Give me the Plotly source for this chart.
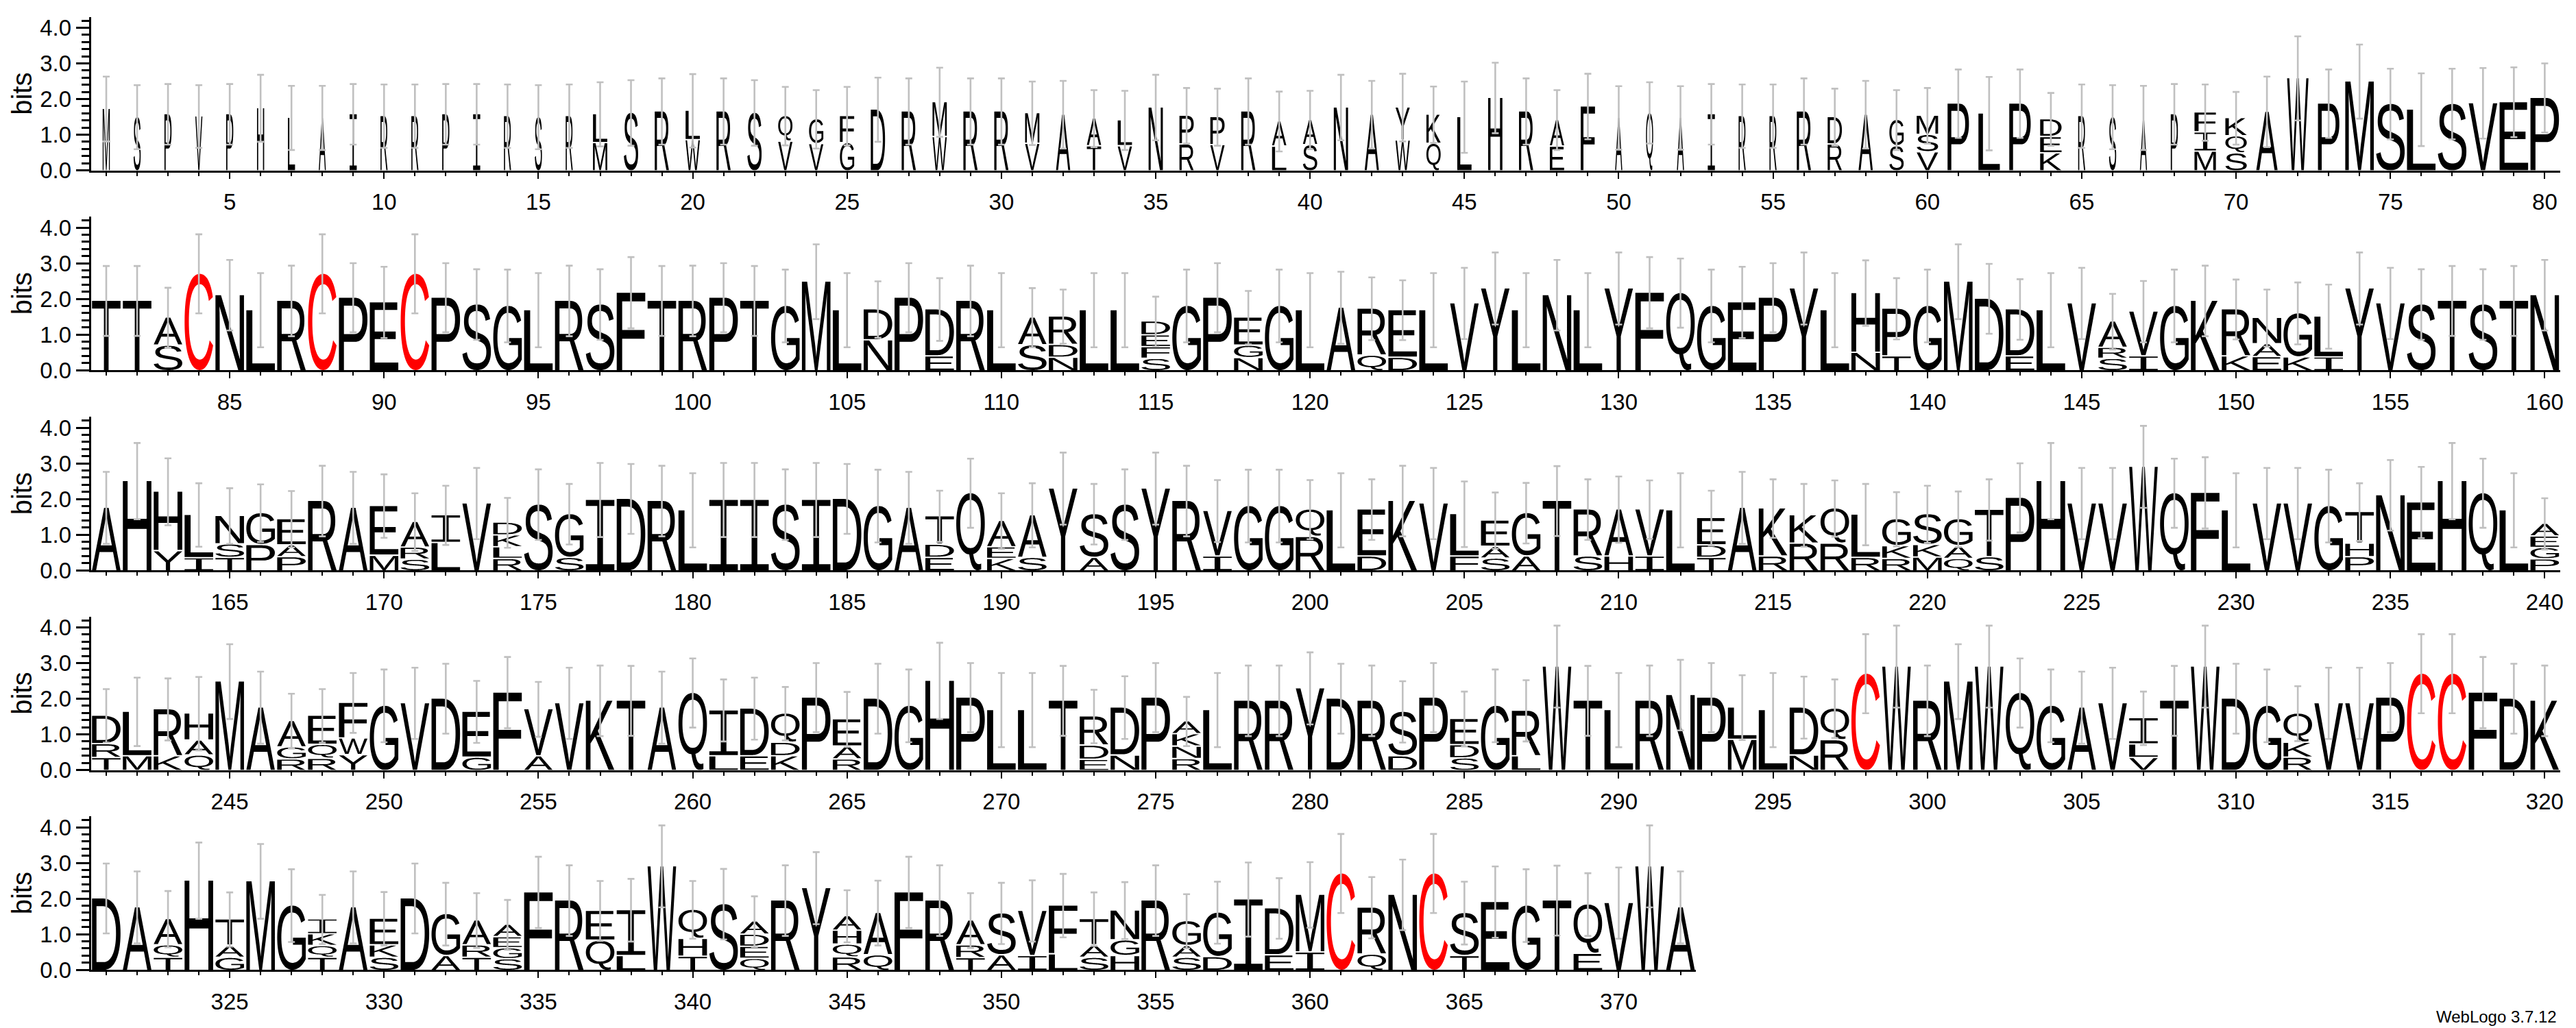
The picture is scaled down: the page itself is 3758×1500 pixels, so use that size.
import glob
import struct
import plotly.graph_objects as go

# ---------------------------------------------------------------- data
# Token: letter+bits segments from bottom to top, then ":" upper error-bar cap (bits).
# A bare letter is a fully conserved column, read from pure_bits / pure_cap.
pure_bits = dict(A=1.75, C=2.70, D=2.00, E=1.90, F=2.17, G=1.80, H=2.50, I=1.97, K=1.94, L=1.68,
                 M=2.48, N=2.10, P=2.03, Q=2.16, R=1.94, S=1.84, T=1.94, V=1.87, W=2.90, Y=2.29)
pure_cap = dict(A=2.76, C=3.81, D=2.98, E=2.90, F=3.17, G=2.82, H=3.57, I=3.01, K=2.93, L=2.72,
                M=3.53, N=3.09, P=3.00, Q=3.13, R=2.93, S=2.83, T=2.92, V=2.87, W=4.05, Y=3.30)

row1_stacks = """
M1.72:2.63 S1.49:2.39 P1.57:2.42 V1.51:2.39 P1.57:2.42 H1.74:2.68 L1.47:2.37 A1.47:2.37 I1.57:2.42 R1.52:2.41
R1.52:2.41 P1.57:2.42 I1.57:2.42 R1.52:2.41 S1.49:2.39 R1.52:2.41 M.78,L.79:2.47 S1.61:2.53 R1.65:2.58 W.86,L.81:2.70
R1.65:2.58 S1.61:2.53 V.82,Q.70:2.34 V.75,G.68:2.25 G.78,F.74:2.34 D1.70:2.60 R1.65:2.58 W.95,M.96:2.88 R1.65:2.58 R1.65:2.58
V.76,M.84:2.49 A1.56:2.51 T.69,A.76:2.25 V.69,L.71:2.23 N1.76:2.68 R.74,P.79:2.31 V.72,P.77:2.29 R1.65:2.58 L.68,A.69:2.21 S.72,A.69:2.23
N1.76:2.68 A1.56:2.51 W.85,Y.91:2.71 Q.76,K.80:2.35 L1.49:2.49 H2.03:3.02 R1.65:2.58 E.68,A.73:2.25 F1.79:2.71 A1.47:2.36
Q1.61:2.47 A1.47:2.36 I1.57:2.42 R1.52:2.41 R1.52:2.41 R1.65:2.58 R.74,D.75:2.29 A1.56:2.51 S.69,G.72:2.25 V.52,S.49,M.52:2.31
P1.87:2.83 L1.59:2.62 P1.87:2.83 K.49,E.46,D.48:2.17 R1.52:2.41 S1.49:2.39 A1.47:2.37 P1.57:2.42 M.54,I.54,F.54:2.41 S.49,Q.48,K.49:2.20
A1.64:2.63 W2.58:3.76 P1.87:2.83 M2.49:3.53 S1.86:2.85 L1.70:2.72 S1.86:2.85 V1.88:2.87 E1.91:2.89 P2.03:3.00
"""
row2_stacks = """
T T S.70,A.77:2.31 C N L R C P E
C P S G L R S F T R
P T G M L N.85,D.85:2.49 P E.40,D1.30:2.58 R L
S.71,A.76:2.30 N.36,D.36,R.78:2.26 L L S.33,F.33,E.33,D.37:2.06 G P N.35,G.35,E.77:2.22 G L
A Q.42,R1.30:2.60 D.36,E1.32:2.52 L V Y L N L Y
F Q G E P Y L N.50,H1.66:3.08 T.40,P1.32:2.58 G
M D E.40,D1.30:2.55 L V S.33,R.31,A.72:2.14 I.40,V1.24:2.50 G K K.40,R1.30:2.54
E.38,A.36,N.72:2.26 K.37,G1.22:2.46 I.37,L1.13:2.40 Y V S T S T N
"""
row3_stacks = """
A H Y.55,H1.65:3.14 I.35,L1.20:2.44 T.36,S.38,N.78:2.30 P.72,G.88:2.41 P.38,A.33,E.72:2.22 R A M.42,E1.38:2.69
S.31,R.34,A.70:2.16 L.78,I.76:2.37 V R.33,L.33,K.33,D.34:2.03 S S.36,G1.21:2.42 I D R L
I I S I D G A E.36,D.37,T.78:2.23 Q K.33,E.33,A.72:2.16
S.36,A1.18:2.44 Y A.36,S1.21:2.42 S Y R I.40,V1.26:2.53 G G R.95,Q.75:2.53
L D.40,E1.30:2.55 K V F.40,L1.17:2.49 S.34,A.33,E.72:2.18 A.40,G1.20:2.45 T S.40,R1.30:2.55 H.40,A1.30:2.63
I.40,V1.30:2.52 L T.36,D.35,E.75:2.23 A R.40,K1.33:2.55 R.76,K.78:2.42 R.76,Q.97:2.52 R.36,L1.20:2.42 R.33,K.36,G.74:2.19 M.37,K.35,S.85:2.37
Q.33,A.36,G.74:2.21 S.38,T1.31:2.55 P H V V W Q F L
V V G P.38,H.38,T.87:2.44 N E H Q L P.32,G.32,E.32,A.34:2.02
"""
row4_stacks = """
T.35,R.39,D.78:2.27 M.40,L1.23:2.59 K.40,R1.30:2.57 Q.42,A.42,H.74:2.61 M A R.31,G.34,A.72:2.14 R.33,Q.39,E.80:2.27 Y.43,W.47,F.98:2.72 G
V D G.36,E1.27:2.50 F A.40,V1.30:2.47 V K T A Q
L.40,I1.27:2.54 E.40,D1.32:2.59 K.40,D.38,Q.80:2.33 P R.31,A.36,E.75:2.19 D G H P L
L T E.30,D.40,R.80:2.25 N.42,D1.33:2.63 P R.32,N.35,K.35,A.34:2.05 L R R Y
D R D.40,S1.23:2.49 P S.34,D.37,E.72:2.20 G L.40,R1.26:2.52 W T L
R N P M.86,L.89:2.66 L N.42,D1.33:2.62 R.85,Q.87:2.54 C W R
M W Q G A V V.35,L.38,I.72:2.20 T W D
G R.36,K.42,Q.80:2.35 V V P C C F D K
"""
row5_stacks = """
D A T.35,Q.35,A.72:2.21 H G.35,A.34,T.72:2.17 M G T.35,Q.33,K.33,I.40:2.10 A S.35,K.35,E.73:2.18
D A.40,G1.16:2.44 T.35,R.35,A.68:2.15 S.31,G.31,E.31,A.33:1.96 F R Q.83,E.82:2.49 L.40,I1.27:2.55 W T.38,H.50,Q.80:2.49
S Q.32,E.34,D.34,A.35:2.06 R Y R.36,Q.36,H.39,A.39:2.23 Q.42,A1.17:2.50 F R T.34,R.36,A.68:2.15 A.42,S1.16:2.44
I.40,V1.25:2.51 L.45,F1.35:2.69 S.35,A.35,T.72:2.17 H.40,G.44,N.82:2.46 R S.35,A.33,G.68:2.12 D.37,G1.23:2.47 I E.42,D1.30:2.57 I.50,M1.60:3.02
C Q.44,R1.30:2.60 N C T.40,S1.19:2.47 E G T E.46,Q1.37:2.71 V
W A
"""
# Number of sequences (out of 4) present in each of the first 80 columns; every later column has 4.
row1_occupancy = "1111111111111111" + "222222222222222222222222222222222" + "111111" + "2222" + "33333" + "1111" + "33333" + "4" * 7
row_starts = [1, 81, 161, 241, 321]
row_stacks = [row1_stacks, row2_stacks, row3_stacks, row4_stacks, row5_stacks]
row_baselines_px = [248.5, 540, 832, 1123.5, 1415]
y_tick_values = [0, 1, 2, 3, 4]

# ---------------------------------------------------------------- glyph outlines
font_path = (glob.glob("/usr/share/fonts/**/LiberationSans-Regular.ttf", recursive=True)
             + glob.glob("/usr/**/LiberationSans-Regular.ttf", recursive=True))[0]
ttf = open(font_path, "rb").read()
tables = {}
for i in range(struct.unpack(">H", ttf[4:6])[0]):
    tag, _, off, ln = struct.unpack(">4sIII", ttf[12 + 16 * i:28 + 16 * i])
    tables[tag.decode()] = off
long_loca = struct.unpack(">h", ttf[tables["head"] + 50:tables["head"] + 52])[0] == 1


def glyph_index(ch):
    cm = tables["cmap"]
    for i in range(struct.unpack(">H", ttf[cm + 2:cm + 4])[0]):
        pid, eid, off = struct.unpack(">HHI", ttf[cm + 4 + 8 * i:cm + 12 + 8 * i])
        st = cm + off
        if struct.unpack(">H", ttf[st:st + 2])[0] != 4:
            continue
        segx2 = struct.unpack(">H", ttf[st + 6:st + 8])[0]
        n = segx2 // 2
        ends = struct.unpack(f">{n}H", ttf[st + 14:st + 14 + segx2])
        starts = struct.unpack(f">{n}H", ttf[st + 16 + segx2:st + 16 + 2 * segx2])
        deltas = struct.unpack(f">{n}h", ttf[st + 16 + 2 * segx2:st + 16 + 3 * segx2])
        ro_at = st + 16 + 3 * segx2
        ros = struct.unpack(f">{n}H", ttf[ro_at:ro_at + segx2])
        c = ord(ch)
        for k in range(n):
            if starts[k] <= c <= ends[k]:
                if ros[k] == 0:
                    return (c + deltas[k]) & 0xFFFF
                p = ro_at + 2 * k + ros[k] + 2 * (c - starts[k])
                return (struct.unpack(">H", ttf[p:p + 2])[0] + deltas[k]) & 0xFFFF
    raise KeyError(ch)


def glyph_contours(ch):
    gid = glyph_index(ch)
    loca = tables["loca"]
    if long_loca:
        off = struct.unpack(">I", ttf[loca + 4 * gid:loca + 4 * gid + 4])[0]
    else:
        off = 2 * struct.unpack(">H", ttf[loca + 2 * gid:loca + 2 * gid + 2])[0]
    p = tables["glyf"] + off
    ncont = struct.unpack(">h", ttf[p:p + 2])[0]
    p += 10
    ends = struct.unpack(f">{ncont}H", ttf[p:p + 2 * ncont])
    p += 2 * ncont
    p += 2 + struct.unpack(">H", ttf[p:p + 2])[0]
    npts = ends[-1] + 1
    flags = []
    while len(flags) < npts:
        f = ttf[p]
        p += 1
        flags.append(f)
        if f & 8:
            flags.extend([f] * ttf[p])
            p += 1
    coords = []
    for short, same in ((2, 16), (4, 32)):
        v, vals = 0, []
        for f in flags:
            if f & short:
                d = ttf[p]
                p += 1
                v += d if f & same else -d
            elif not f & same:
                v += struct.unpack(">h", ttf[p:p + 2])[0]
                p += 2
            vals.append(v)
        coords.append(vals)
    out, s = [], 0
    for e in ends:
        pts = [(coords[0][i], coords[1][i], flags[i] & 1) for i in range(s, e + 1)]
        s = e + 1
        expanded = []
        for i, a in enumerate(pts):
            b = pts[(i + 1) % len(pts)]
            expanded.append(a)
            if not a[2] and not b[2]:
                expanded.append(((a[0] + b[0]) / 2, (a[1] + b[1]) / 2, 1))
        while not expanded[0][2]:
            expanded = expanded[1:] + expanded[:1]
        poly = []
        m = len(expanded)
        for i in range(m):
            a = expanded[i]
            if not a[2]:
                continue
            poly.append((a[0], a[1]))
            b = expanded[(i + 1) % m]
            if not b[2]:
                c = expanded[(i + 2) % m]
                for j in range(1, 8):
                    t = j / 8
                    poly.append(((1 - t) ** 2 * a[0] + 2 * t * (1 - t) * b[0] + t * t * c[0],
                                 (1 - t) ** 2 * a[1] + 2 * t * (1 - t) * b[1] + t * t * c[1]))
        out.append(poly)
    xs = [q[0] for c in out for q in c]
    ys = [q[1] for c in out for q in c]
    x0, x1, y0, y1 = min(xs), max(xs), min(ys), max(ys)
    return [[((a - x0) / (x1 - x0), (b - y0) / (y1 - y0)) for a, b in c] for c in out]


GLYPHS = {ch: glyph_contours(ch) for ch in "ACDEFGHKLMNPQRSTVWY"}
# WebLogo's I has slab bars at top and bottom.
GLYPHS["I"] = [[(0, 0), (0, .085), (.4, .085), (.4, .915), (0, .915), (0, 1), (1, 1), (1, .915), (.6, .915),
                (.6, .085), (1, .085), (1, 0)]]

FULL_WIDTH = 0.924   # letter width of a full column, in position units
GAP_BITS = 0.02      # half of the white gap between stacked letters


def parse(token):
    left, _, cap = token.partition(":")
    if ":" not in token:
        return [(left, pure_bits[left])], pure_cap[left]
    return [(s[0], float(s[1:])) for s in left.split(",")], float(cap)


def add_letter(bag, ch, pos, low, high, width):
    for contour in GLYPHS[ch]:
        for a, b in contour:
            bag[0].append(pos + (a - .5) * width)
            bag[1].append(low + b * (high - low))
        bag[0].append(None)
        bag[1].append(None)


# ---------------------------------------------------------------- figure
W, H, U = 3758, 1500, 52.0
LEFT, SLOT = 132.5, 45.03
Y_TOP = 4.3
fig = go.Figure()
layout = {}
for r, (start, text, base) in enumerate(zip(row_starts, row_stacks, row_baselines_px)):
    tokens = text.split()
    black, red = ([], []), ([], [])
    xs, tops, errs = [], [], []
    for k, tok in enumerate(tokens):
        pos = start + k
        occ = int(row1_occupancy[pos - 1]) if pos <= 80 else 4
        width = FULL_WIDTH * occ / 4
        segs, cap = parse(tok)
        low = 0.0
        for i, (ch, h) in enumerate(segs):
            lo = low + (GAP_BITS if i else 0)
            hi = low + h - (GAP_BITS if i < len(segs) - 1 else 0)
            add_letter(red if ch == "C" else black, ch, pos, lo, hi, width)
            low += h
        xs.append(pos)
        tops.append(low)
        errs.append(round(cap - low, 3))
    ax = "" if r == 0 else str(r + 1)
    xref, yref = "x" + ax, "y" + ax
    for bag, col in ((black, "#000000"), (red, "#ff0000")):
        if bag[0]:
            fig.add_trace(go.Scatter(x=bag[0], y=bag[1], mode="lines", fill="toself", fillcolor=col,
                                     line=dict(width=0, color=col, simplify=False), hoverinfo="skip",
                                     showlegend=False, xaxis=xref, yaxis=yref))
    fig.add_trace(go.Scatter(x=xs, y=tops, mode="markers", marker=dict(size=1, opacity=0),
                             error_y=dict(type="data", array=errs, symmetric=True, color="#c0c0c0",
                                          thickness=2.6, width=5),
                             hoverinfo="skip", showlegend=False, xaxis=xref, yaxis=yref))
    end = start + len(tokens)
    tick5 = [p for p in range(start, end) if p % 5 == 0]
    layout["xaxis" + ax] = dict(
        domain=[LEFT / W, (LEFT + len(tokens) * SLOT) / W], range=[start - .5, end - .5], anchor=yref,
        automargin=False,
        showgrid=False, zeroline=False, showline=True, linewidth=3.2, linecolor="#000",
        ticks="outside", tickmode="array", tickvals=tick5, ticklen=9, tickwidth=2, tickcolor="#000",
        tickangle=0, ticklabelstandoff=6, tickfont=dict(family="Liberation Sans", size=33, color="#000"),
        minor=dict(tickmode="array", tickvals=list(range(start, end)), ticks="outside", ticklen=5, tickwidth=2,
                   tickcolor="#000", showgrid=False))
    layout["yaxis" + ax] = dict(
        domain=[1 - base / H, 1 - (base - Y_TOP * U) / H], range=[0, Y_TOP], anchor=xref,
        automargin=False,
        showgrid=False, zeroline=False, showline=True, linewidth=2.6, linecolor="#000",
        ticks="outside", tickmode="array", tickvals=y_tick_values, ticktext=[f"{v:.1f}" for v in y_tick_values],
        ticklen=19, tickwidth=3, tickcolor="#000", ticklabelstandoff=0,
        tickfont=dict(family="Liberation Sans", size=33, color="#000"),
        title=dict(text="bits", font=dict(family="Liberation Sans", size=40, color="#000"), standoff=0),
        minor=dict(tickmode="linear", dtick=0.2, tick0=0, ticks="outside", ticklen=11, tickwidth=3,
                   tickcolor="#000", showgrid=False))

fig.update_layout(width=W, height=H, margin=dict(l=0, r=0, t=0, b=0, autoexpand=False),
                  paper_bgcolor="#fff", plot_bgcolor="#fff",
                  showlegend=False, annotations=[dict(
                      text="WebLogo 3.7.12", xref="paper", yref="paper", x=3732 / W,
                      y=1 - 1483 / H, xanchor="right", yanchor="middle", showarrow=False,
                      font=dict(family="Liberation Sans", size=24, color="#000"))], **layout)
for tr in fig.data:
    tr.cliponaxis = False
# The default page has an 8px body margin; drop it so the figure fills the window exactly.
fig.write_html("out.html", config={"displayModeBar": False}, post_script="document.body.style.margin='0';")
